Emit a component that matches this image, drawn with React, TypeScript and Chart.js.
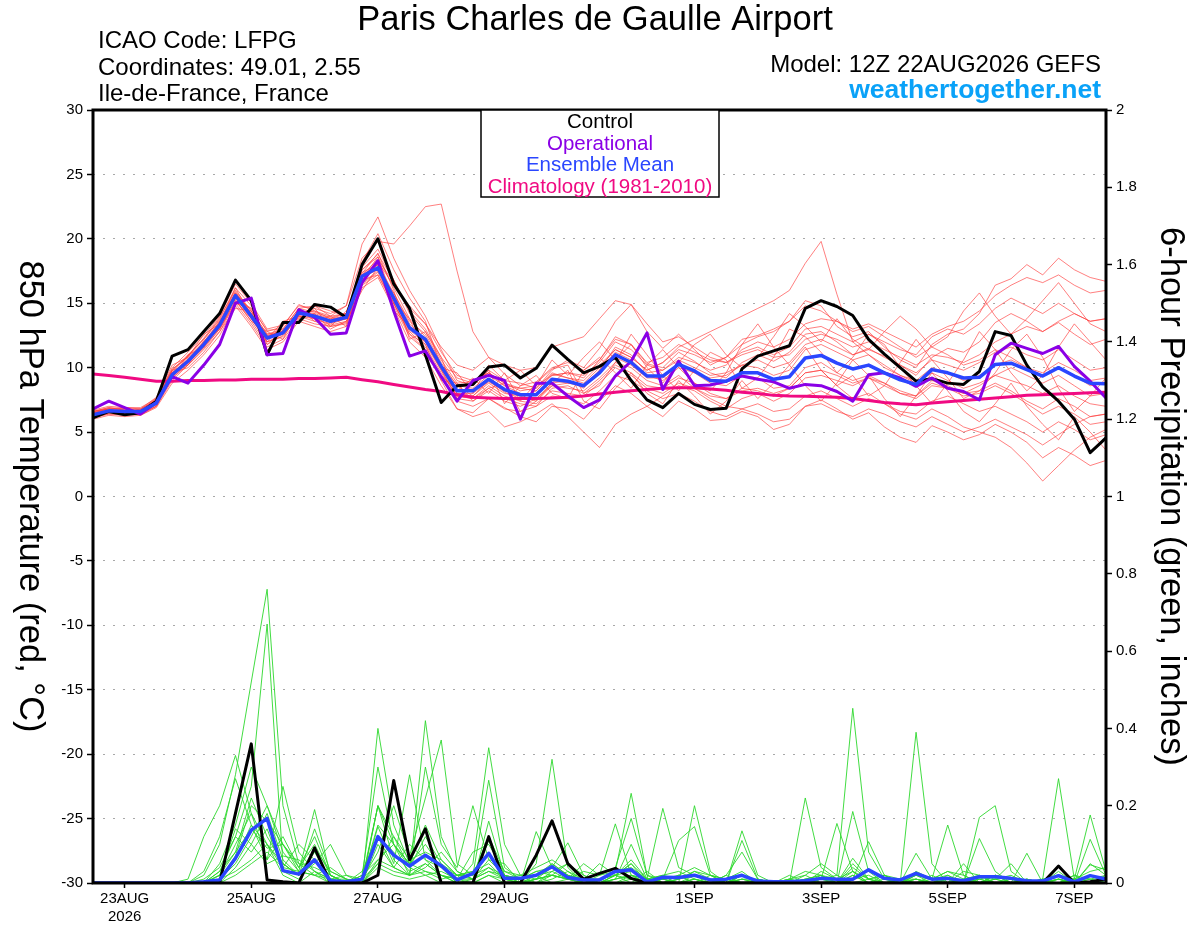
import React, { useEffect, useRef } from "react";
import { Chart, registerables } from "chart.js";

Chart.register(...registerables);

const FONT = '"Liberation Sans", Arial, Helvetica, sans-serif';

// ---- time axis (forecast hours from 12Z 22AUG2026, 6-hourly) ----
const FORECAST_HOURS = Array.from({ length: 65 }, (_, i) => i * 6);
const TICK_HOURS = [12, 60, 108, 156, 228, 276, 324, 372];
const TICK_LABELS: (string | string[])[] = [["23AUG", "2026"], "25AUG", "27AUG", "29AUG", "1SEP", "3SEP", "5SEP", "7SEP"];

// ---- 850 hPa temperature (°C) ----
const CONTROL_T = [
  6.1, 6.6, 6.35, 6.5, 7.4, 10.9, 11.4, 12.8, 14.2, 16.8, 15.2, 11.0, 13.5,
  13.5, 14.9, 14.7, 13.9, 18.0, 20.0, 16.5, 14.6, 11.0, 7.3, 8.6, 8.7, 10.05,
  10.2, 9.2, 9.95, 11.75, 10.65, 9.6, 10.1, 10.8, 9.0, 7.5, 6.9, 8.0, 7.15,
  6.75, 6.85, 9.9, 10.9, 11.3, 11.7, 14.6, 15.2, 14.75, 14.05, 12.2, 11.05, 10.0,
  8.95, 9.15, 8.8, 8.7, 9.7, 12.8, 12.5, 10.2, 8.5, 7.4, 6.0, 3.4, 4.55,
];
const OPERATIONAL_T = [
  6.8, 7.4, 6.9, 6.4, 7.3, 9.3, 8.8, 10.2, 11.8, 15.0, 15.4, 11.0, 11.1,
  14.5, 13.9, 12.6, 12.7, 16.6, 18.3, 14.4, 10.9, 11.3, 9.3, 7.4, 9.0, 9.4,
  9.0, 6.0, 8.8, 8.8, 7.8, 6.9, 7.5, 9.35, 10.5, 12.7, 8.3, 10.5, 8.6,
  8.65, 8.95, 9.35, 9.1, 8.9, 8.4, 8.7, 8.6, 8.15, 7.4, 9.45, 9.6, 9.2,
  8.55, 9.2, 8.4, 8.15, 7.5, 11.0, 11.9, 11.5, 11.1, 11.65, 10.1, 8.95, 7.65,
];
const MEAN_T = [
  6.35, 6.65, 6.6, 6.6, 7.25, 9.45, 10.5, 11.8, 13.3, 15.6, 14.0, 12.3, 12.7,
  14.25, 14.0, 13.6, 13.9, 17.1, 17.75, 15.4, 13.1, 12.2, 10.1, 8.2, 8.2, 9.1,
  8.3, 7.9, 7.9, 9.1, 8.95, 8.6, 9.6, 11.0, 10.4, 9.35, 9.35, 10.25, 9.75,
  9.0, 8.95, 9.6, 9.6, 9.1, 9.3, 10.75, 10.95, 10.35, 9.9, 10.2, 9.6, 9.05,
  8.7, 9.85, 9.6, 9.2, 9.25, 10.25, 10.35, 9.85, 9.35, 10.0, 9.35, 8.8, 8.75,
];
const CLIMO_T = [
  9.5, 9.4, 9.25, 9.1, 8.95, 8.95, 9.0, 9.0, 9.05, 9.05, 9.1, 9.1, 9.1,
  9.15, 9.15, 9.2, 9.25, 9.07, 8.9, 8.7, 8.5, 8.3, 8.15, 7.9, 7.7, 7.65,
  7.6, 7.6, 7.6, 7.65, 7.7, 7.8, 7.95, 8.1, 8.2, 8.3, 8.4, 8.45, 8.45,
  8.35, 8.25, 8.1, 8.0, 7.85, 7.8, 7.78, 7.75, 7.7, 7.6, 7.45, 7.3, 7.2,
  7.13, 7.25, 7.35, 7.45, 7.55, 7.65, 7.75, 7.85, 7.9, 7.95, 8.0, 8.05, 8.1,
];

// ---- temperature ensemble members ----
const TM01 = [
  6.6, 6.9, 6.8, 6.7, 7.6, 10.0, 11.2, 12.5, 14.0, 16.5, 15.0, 13.0, 13.3,
  14.8, 14.6, 14.2, 14.8, 18.5, 19.8, 19.6, 21.0, 22.5, 22.7, 17.5, 12.8, 10.8,
  9.5, 8.6, 8.9, 10.0, 10.4, 9.8, 10.6, 12.2, 11.8, 10.3, 10.0, 11.2, 10.5,
  9.6, 9.2, 10.4, 11.0, 10.5, 11.2, 12.6, 12.8, 12.0, 11.0, 11.5, 10.8, 10.2,
  9.4, 10.8, 11.5, 11.2, 12.0, 13.5, 14.2, 13.6, 12.8, 13.5, 12.6, 11.8, 12.2,
];
const TM02 = [
  6.0, 6.3, 6.2, 6.3, 6.9, 8.8, 9.8, 11.0, 12.5, 14.8, 13.2, 11.4, 12.0,
  13.6, 13.2, 12.8, 13.2, 16.2, 17.0, 14.6, 12.0, 10.8, 8.6, 6.8, 6.5, 7.6,
  6.9, 6.2, 5.8, 7.0, 6.8, 6.0, 7.4, 8.6, 8.0, 7.0, 6.2, 7.4, 6.8,
  5.9, 6.0, 6.6, 6.2, 5.2, 5.6, 7.0, 7.5, 6.8, 6.0, 6.5, 5.4, 4.6,
  4.2, 5.5, 5.0, 4.4, 4.8, 5.6, 5.0, 4.2, 3.0, 3.8, 3.2, 2.4, 2.8,
];
const TM03 = [
  6.5, 6.8, 6.9, 6.8, 7.4, 9.8, 11.0, 12.2, 13.8, 16.2, 14.8, 12.8, 13.2,
  14.9, 14.4, 14.0, 14.8, 19.6, 21.7, 18.5, 16.0, 14.0, 11.4, 9.0, 8.6, 9.8,
  9.0, 8.8, 8.4, 9.8, 10.6, 10.0, 11.5, 13.6, 14.9, 12.8, 11.5, 12.6, 11.4,
  10.2, 10.8, 12.2, 12.5, 13.0, 13.6, 15.2, 14.8, 13.2, 12.4, 12.8, 11.6, 10.6,
  10.0, 11.8, 12.6, 13.0, 14.2, 16.4, 16.9, 18.0, 17.2, 18.5, 17.6, 17.0, 16.7,
];
const TM04 = [
  6.2, 6.5, 6.4, 6.5, 7.1, 9.2, 10.3, 11.6, 13.0, 15.2, 13.6, 11.8, 12.5,
  14.0, 13.8, 13.3, 13.6, 16.6, 17.5, 15.8, 13.6, 12.6, 10.4, 8.6, 7.8, 9.0,
  8.1, 7.6, 8.2, 9.5, 9.2, 8.8, 10.0, 11.4, 10.8, 9.8, 10.4, 11.6, 12.2,
  12.8, 13.4, 14.0, 14.6, 15.2, 16.0, 18.1, 19.8, 15.7, 12.0, 11.0, 10.2, 9.4,
  8.8, 9.6, 9.0, 8.4, 8.8, 9.4, 9.0, 8.6, 8.0, 8.6, 7.8, 7.2, 7.0,
];
const TM05 = [
  6.3, 6.6, 6.5, 6.4, 7.2, 9.6, 10.6, 11.8, 13.2, 15.8, 14.2, 12.4, 12.9,
  14.4, 14.2, 13.8, 14.0, 17.4, 18.0, 15.0, 12.8, 11.6, 9.6, 7.8, 7.6, 8.4,
  7.6, 7.2, 7.0, 8.4, 8.6, 8.0, 9.0, 10.2, 9.6, 8.6, 8.4, 9.2, 8.8,
  8.0, 7.6, 8.4, 8.2, 7.8, 8.4, 9.6, 9.8, 8.6, 7.6, 8.0, 7.2, 6.4,
  6.0, 6.8, 6.2, 5.4, 5.0, 4.6, 3.8, 2.6, 1.2, 2.4, 3.6, 4.6, 5.2,
];
const TM06 = [
  6.7, 7.0, 6.9, 6.9, 7.6, 9.9, 10.8, 12.0, 13.6, 15.4, 14.6, 12.9, 13.0,
  14.6, 14.8, 14.0, 14.2, 17.8, 19.2, 16.8, 14.2, 12.8, 10.6, 8.8, 8.9, 9.6,
  8.8, 8.4, 8.6, 9.4, 9.6, 9.4, 10.4, 12.0, 11.4, 10.2, 9.8, 10.6, 10.0,
  9.4, 9.6, 10.2, 10.6, 10.0, 10.4, 11.8, 12.2, 11.6, 11.0, 11.4, 10.9, 10.2,
  9.6, 10.6, 10.2, 9.8, 10.4, 11.2, 11.6, 11.0, 10.6, 11.4, 10.6, 9.8, 10.0,
];
const TM07 = [
  6.1, 6.4, 6.3, 6.4, 7.0, 9.0, 10.2, 11.4, 12.8, 15.0, 13.4, 11.6, 12.2,
  13.8, 13.4, 13.2, 13.4, 16.4, 17.2, 14.8, 12.4, 11.4, 9.0, 6.8, 6.2, 6.6,
  5.4, 5.8, 6.4, 7.2, 6.2, 5.0, 3.8, 5.6, 6.4, 7.0, 7.8, 8.6, 8.2,
  7.4, 6.8, 7.6, 8.0, 7.4, 8.0, 9.2, 9.4, 9.0, 8.6, 9.2, 8.6, 8.0,
  7.6, 8.6, 8.4, 8.0, 8.6, 9.4, 10.0, 9.4, 8.8, 9.4, 8.6, 7.8, 8.0,
];
const TM08 = [
  6.5, 6.7, 6.6, 6.7, 7.5, 9.7, 10.9, 12.3, 13.9, 16.0, 14.4, 12.6, 12.8,
  14.2, 14.4, 13.8, 14.2, 17.6, 18.6, 16.2, 13.8, 12.4, 10.2, 8.6, 8.4, 9.4,
  8.6, 8.0, 7.6, 8.8, 9.0, 8.4, 9.8, 11.6, 11.0, 9.6, 9.8, 10.8, 10.4,
  9.8, 10.2, 11.4, 12.0, 11.6, 12.2, 13.4, 13.8, 13.6, 13.0, 13.4, 12.8, 12.2,
  11.6, 12.6, 13.2, 13.6, 14.4, 15.6, 16.4, 17.0, 16.6, 17.2, 16.4, 15.8, 16.0,
];
const TM09 = [
  6.4, 6.6, 6.5, 6.5, 7.3, 9.4, 10.4, 11.6, 13.2, 15.5, 13.8, 12.0, 12.6,
  14.2, 13.9, 13.6, 13.8, 16.8, 17.2, 15.0, 12.6, 11.8, 9.8, 7.6, 7.4, 8.2,
  7.4, 7.0, 7.6, 8.6, 8.4, 8.2, 9.2, 10.4, 10.0, 9.0, 8.6, 9.4, 8.4,
  7.6, 7.0, 6.8, 7.2, 6.6, 6.8, 7.8, 8.2, 7.6, 7.0, 7.6, 7.2, 6.6,
  6.4, 7.4, 7.8, 7.2, 6.6, 7.0, 6.4, 5.8, 5.0, 5.8, 5.2, 4.4, 4.8,
];
const TM10 = [
  6.2, 6.5, 6.5, 6.5, 7.2, 9.3, 10.4, 11.7, 13.1, 15.4, 14.0, 12.4, 12.6,
  14.1, 14.0, 13.5, 13.8, 17.0, 18.0, 15.8, 13.4, 12.2, 10.0, 8.0, 7.8, 8.8,
  8.0, 7.8, 7.4, 8.6, 8.8, 8.6, 9.8, 11.2, 10.6, 9.4, 9.0, 10.0, 9.6,
  9.2, 9.4, 10.2, 10.0, 9.4, 9.8, 11.4, 11.8, 11.2, 10.6, 11.0, 10.0, 9.4,
  9.0, 10.0, 9.6, 9.0, 9.4, 10.2, 10.6, 10.0, 9.6, 10.4, 9.8, 9.0, 9.2,
];
const TM11 = [
  6.6, 6.9, 6.7, 6.6, 7.4, 9.6, 10.7, 12.0, 13.5, 15.9, 14.2, 12.5, 12.8,
  14.4, 14.1, 13.7, 14.0, 17.2, 18.4, 16.6, 14.6, 13.4, 11.6, 10.2, 9.8, 10.8,
  10.2, 9.8, 10.0, 11.6, 12.0, 12.4, 13.8, 15.2, 14.9, 13.4, 12.0, 12.4, 11.6,
  10.8, 10.4, 11.0, 11.4, 10.8, 11.0, 12.2, 12.6, 12.2, 11.6, 12.0, 11.4, 10.8,
  10.2, 11.0, 10.8, 10.4, 11.0, 12.0, 12.6, 13.2, 12.8, 13.6, 14.2, 13.6, 13.8,
];
const TM12 = [
  6.3, 6.6, 6.6, 6.6, 7.2, 9.4, 10.5, 11.8, 13.4, 15.6, 14.1, 12.2, 12.8,
  14.3, 14.1, 13.6, 14.0, 17.0, 17.6, 15.2, 12.9, 12.0, 9.9, 8.0, 8.0, 8.9,
  8.2, 7.8, 8.0, 9.0, 8.8, 8.6, 9.6, 10.8, 10.2, 9.2, 9.2, 10.2, 9.6,
  8.8, 8.6, 9.4, 9.2, 8.4, 8.6, 10.0, 10.4, 9.6, 9.0, 9.4, 8.8, 8.0,
  7.8, 9.0, 8.6, 8.0, 8.2, 8.8, 8.2, 7.4, 6.8, 7.6, 7.0, 6.2, 6.4,
];
const TM13 = [
  6.5, 6.8, 6.7, 6.7, 7.4, 9.5, 10.6, 11.9, 13.4, 15.7, 14.2, 12.5, 12.7,
  14.2, 13.8, 13.4, 13.8, 16.8, 18.2, 16.4, 14.8, 13.4, 11.2, 9.4, 9.0, 9.6,
  8.8, 8.2, 8.4, 9.6, 9.2, 9.0, 10.2, 11.4, 10.8, 9.8, 10.4, 11.4, 11.0,
  10.4, 10.8, 11.8, 12.4, 12.8, 13.6, 14.8, 14.4, 13.6, 12.8, 13.2, 12.4, 11.6,
  10.8, 11.6, 11.0, 10.2, 10.6, 11.4, 10.8, 10.0, 9.4, 10.0, 9.4, 8.6, 8.8,
];
const TM14 = [
  6.2, 6.4, 6.4, 6.5, 7.0, 9.2, 10.2, 11.5, 13.0, 15.2, 13.8, 12.0, 12.4,
  14.0, 13.6, 13.2, 13.5, 16.5, 17.4, 15.0, 12.6, 11.4, 9.2, 7.4, 7.0, 7.6,
  6.8, 6.6, 7.0, 7.8, 7.6, 7.2, 8.2, 9.4, 9.0, 8.2, 7.6, 8.0, 7.4,
  6.6, 6.2, 6.8, 6.4, 5.8, 6.0, 7.0, 7.2, 6.6, 6.2, 6.8, 6.4, 5.8,
  5.4, 6.2, 5.6, 5.0, 5.4, 6.0, 5.4, 4.8, 4.0, 4.8, 5.6, 6.2, 6.4,
];
const TM15 = [
  6.6, 6.8, 6.8, 6.8, 7.5, 9.8, 10.9, 12.2, 13.7, 15.8, 14.4, 12.6, 13.0,
  14.6, 14.3, 13.9, 14.2, 17.6, 18.8, 16.8, 14.4, 13.0, 10.8, 9.2, 8.8, 9.6,
  8.6, 8.4, 8.2, 9.4, 9.6, 9.2, 10.6, 12.4, 11.8, 10.4, 10.8, 11.8, 11.2,
  10.6, 10.4, 11.2, 11.6, 11.0, 11.6, 13.0, 13.2, 12.6, 12.0, 12.6, 12.0, 11.4,
  11.0, 12.4, 13.0, 12.6, 13.4, 14.6, 15.4, 14.8, 14.2, 15.0, 14.2, 13.6, 13.8,
];
const TM16 = [
  6.4, 6.6, 6.6, 6.6, 7.3, 9.5, 10.5, 11.9, 13.3, 15.5, 14.0, 12.3, 12.6,
  14.2, 14.0, 13.5, 13.9, 17.2, 18.0, 15.6, 13.2, 12.0, 9.8, 7.8, 7.6, 8.6,
  7.8, 7.4, 7.2, 8.2, 8.0, 7.8, 8.8, 10.0, 9.4, 8.4, 8.0, 8.8, 8.4,
  7.8, 7.6, 8.2, 8.4, 8.0, 8.4, 9.6, 9.8, 9.4, 8.8, 9.2, 8.8, 8.2,
  7.8, 8.8, 8.4, 7.8, 8.0, 8.6, 8.0, 7.2, 6.4, 7.0, 6.4, 5.6, 5.8,
];
const TM17 = [
  6.3, 6.7, 6.4, 6.6, 7.2, 9.8, 10.2, 12.1, 13.0, 15.0, 14.6, 12.0, 13.4,
  13.8, 14.6, 13.2, 14.4, 16.9, 18.6, 15.2, 13.8, 11.0, 9.4, 8.2, 9.2, 8.0,
  9.6, 7.4, 8.8, 9.9, 10.2, 8.0, 8.6, 10.4, 12.6, 11.0, 9.4, 8.2, 9.8,
  11.2, 10.6, 8.4, 9.2, 10.8, 13.0, 12.4, 11.2, 9.6, 10.8, 12.6, 11.8, 10.0,
  8.6, 7.2, 8.8, 10.6, 12.8, 11.4, 9.6, 8.2, 9.4, 11.6, 13.4, 12.0, 10.6,
];
const TM18 = [
  6.5, 6.6, 6.8, 6.5, 7.5, 9.2, 11.0, 11.6, 13.6, 15.3, 13.6, 12.8, 12.2,
  14.6, 13.6, 14.0, 13.2, 17.3, 18.9, 16.0, 12.2, 12.8, 10.8, 7.6, 8.8, 9.8,
  7.2, 8.6, 9.4, 8.0, 7.6, 9.8, 10.8, 9.6, 8.4, 10.2, 11.4, 10.0, 8.8,
  8.2, 9.6, 11.8, 13.4, 11.6, 10.2, 11.6, 9.8, 8.6, 9.4, 7.8, 8.6, 10.4,
  12.2, 10.6, 9.2, 7.6, 8.2, 9.6, 11.4, 12.6, 10.8, 8.4, 6.6, 7.8, 9.2,
];
const TM19 = [
  6.1, 6.5, 6.6, 6.3, 7.0, 9.6, 10.0, 11.2, 12.8, 14.6, 14.4, 11.8, 12.9,
  13.9, 14.2, 13.0, 13.6, 16.0, 17.8, 14.4, 13.2, 11.8, 9.0, 8.8, 7.4, 8.4,
  8.8, 6.6, 7.4, 8.8, 9.8, 7.4, 6.8, 8.4, 9.6, 8.0, 7.2, 9.0, 7.8,
  6.4, 7.4, 9.0, 7.6, 8.8, 10.2, 8.6, 7.4, 8.8, 10.6, 9.4, 7.6, 6.2,
  7.8, 9.6, 8.2, 6.6, 5.8, 7.2, 8.8, 7.0, 5.6, 4.4, 6.2, 5.0, 3.6,
];
const TM20 = [
  6.6, 6.8, 6.5, 6.8, 7.7, 10.2, 10.8, 12.6, 13.4, 16.2, 14.0, 12.2, 13.6,
  14.0, 14.8, 14.4, 14.0, 18.2, 20.4, 17.6, 15.4, 13.6, 10.0, 9.6, 8.0, 10.2,
  9.0, 9.8, 8.6, 10.6, 9.4, 10.8, 12.0, 10.6, 11.8, 10.0, 8.8, 10.4, 11.8,
  12.6, 11.0, 10.0, 10.8, 12.4, 14.2, 13.2, 12.0, 13.8, 12.2, 11.4, 12.8, 14.0,
  13.0, 11.6, 12.4, 14.4, 15.8, 14.0, 12.6, 13.8, 15.2, 16.6, 15.0, 13.4, 12.8,
];
const TEMP_MEMBERS = [
  TM01, TM02, TM03, TM04, TM05, TM06, TM07, TM08, TM09, TM10,
  TM11, TM12, TM13, TM14, TM15, TM16, TM17, TM18, TM19, TM20,
];

// ---- 6-hour precipitation (inches) ----
const CONTROL_P = [
  0, 0, 0, 0, 0, 0, 0, 0, 0, 0.18, 0.36, 0.008, 0.003,
  0, 0.091, 0, 0, 0, 0.02, 0.265, 0.06, 0.14, 0, 0, 0, 0.12,
  0, 0, 0.072, 0.161, 0.05, 0.01, 0.025, 0.038, 0.012, 0, 0, 0, 0,
  0, 0, 0, 0, 0, 0, 0, 0, 0, 0, 0, 0, 0,
  0, 0, 0, 0, 0, 0, 0, 0, 0, 0.044, 0, 0.003, 0.01,
];
const MEAN_P = [
  0, 0, 0, 0, 0, 0, 0, 0.003, 0.008, 0.064, 0.137, 0.167, 0.032,
  0.023, 0.06, 0.006, 0.003, 0.01, 0.12, 0.072, 0.044, 0.072, 0.045, 0.008, 0.025, 0.077,
  0.012, 0.012, 0.02, 0.042, 0.014, 0.008, 0.008, 0.03, 0.034, 0.003, 0.015, 0.014, 0.02,
  0.008, 0.01, 0.02, 0.005, 0.003, 0.003, 0.006, 0.012, 0.01, 0.01, 0.034, 0.012, 0.008,
  0.025, 0.01, 0.012, 0.006, 0.016, 0.016, 0.012, 0.006, 0.005, 0.019, 0.003, 0.019, 0.01,
];

// ---- precipitation ensemble members ----
const PM01 = [
  0, 0, 0, 0, 0, 0, 0, 0.02, 0.10, 0.28, 0.52, 0.76, 0.20,
  0.05, 0.02, 0, 0, 0.01, 0.05, 0.12, 0.04, 0.02, 0, 0, 0.01, 0.04,
  0.02, 0, 0, 0.01, 0.03, 0, 0, 0.02, 0.05, 0.01, 0, 0, 0.01,
  0, 0, 0.02, 0, 0, 0.01, 0, 0.03, 0.01, 0, 0, 0.02, 0,
  0, 0, 0.01, 0, 0, 0.02, 0, 0, 0.01, 0, 0, 0.02, 0,
];
const PM02 = [
  0, 0, 0, 0, 0, 0, 0, 0, 0.03, 0.12, 0.25, 0.67, 0.05,
  0.02, 0.08, 0.01, 0, 0, 0.4, 0.15, 0.05, 0.1, 0.04, 0, 0, 0.02,
  0, 0, 0.01, 0.05, 0.02, 0, 0.01, 0, 0, 0.03, 0, 0.02, 0,
  0, 0.01, 0, 0, 0, 0, 0.22, 0.04, 0.01, 0, 0, 0, 0,
  0.01, 0, 0, 0.05, 0, 0, 0.01, 0, 0, 0, 0.02, 0, 0,
];
const PM03 = [
  0, 0, 0, 0, 0, 0, 0.01, 0.12, 0.2, 0.33, 0.18, 0.1, 0.02,
  0, 0.03, 0.01, 0, 0.02, 0.3, 0.1, 0.02, 0.05, 0.02, 0, 0.05, 0.35,
  0.1, 0.02, 0, 0.03, 0.05, 0.02, 0, 0, 0.02, 0.01, 0, 0, 0,
  0.02, 0, 0, 0, 0, 0, 0, 0.01, 0.154, 0.03, 0, 0, 0,
  0, 0, 0, 0.01, 0.02, 0, 0, 0, 0, 0, 0.02, 0.01, 0,
];
const PM04 = [
  0, 0, 0, 0, 0, 0, 0, 0.03, 0.12, 0.27, 0.15, 0.06, 0.25,
  0.08, 0.03, 0, 0, 0, 0.2, 0.06, 0.02, 0.3, 0.1, 0.04, 0.2, 0.06,
  0.05, 0, 0.01, 0.02, 0.01, 0.05, 0.02, 0.03, 0.232, 0.02, 0, 0.01, 0.02,
  0, 0, 0.135, 0.02, 0, 0, 0, 0.01, 0.02, 0.452, 0.08, 0.01, 0,
  0.02, 0, 0.01, 0, 0.01, 0, 0, 0, 0.01, 0.27, 0.01, 0, 0.02,
];
const PM05 = [
  0, 0, 0, 0, 0, 0, 0, 0, 0.05, 0.15, 0.3, 0.2, 0.1,
  0.03, 0.19, 0.02, 0, 0, 0.146, 0.05, 0.28, 0.06, 0.02, 0, 0, 0.16,
  0.02, 0, 0.05, 0.32, 0.04, 0, 0, 0.02, 0.05, 0, 0.01, 0, 0.2,
  0.03, 0, 0.02, 0, 0, 0.01, 0.02, 0, 0, 0.01, 0.107, 0.02, 0,
  0.39, 0.05, 0, 0.01, 0, 0.02, 0, 0.01, 0, 0, 0.01, 0.176, 0.03,
];
const PM06 = [
  0, 0, 0, 0, 0, 0, 0, 0, 0.02, 0.08, 0.22, 0.12, 0.05,
  0.02, 0.14, 0.03, 0.01, 0, 0.1, 0.04, 0.02, 0.42, 0.12, 0.03, 0.01, 0.11,
  0.02, 0, 0.133, 0.04, 0.104, 0.02, 0, 0.01, 0.1, 0.01, 0.193, 0.04, 0.02,
  0.01, 0, 0.02, 0, 0, 0, 0, 0.01, 0, 0.064, 0.01, 0, 0,
  0.077, 0.01, 0.15, 0.02, 0, 0.01, 0.05, 0, 0, 0.01, 0, 0.113, 0.02,
];
const PM07 = [
  0, 0, 0, 0, 0, 0, 0, 0, 0.01, 0.06, 0.15, 0.1, 0.04,
  0.1, 0.06, 0.02, 0, 0.01, 0.08, 0.2, 0.07, 0.22, 0.37, 0.05, 0.02, 0.04,
  0.01, 0, 0.02, 0, 0.01, 0.03, 0.02, 0.153, 0.02, 0, 0.01, 0.11, 0.146,
  0.02, 0, 0.11, 0.01, 0, 0.02, 0, 0, 0, 0.185, 0.03, 0, 0.01,
  0, 0.02, 0, 0, 0.17, 0.2, 0.03, 0, 0.01, 0.02, 0, 0.047, 0.034,
];
const PM08 = [
  0, 0, 0, 0, 0, 0, 0, 0, 0, 0.04, 0.1, 0.18, 0.06,
  0.02, 0.05, 0.1, 0.02, 0, 0.12, 0.08, 0.03, 0.05, 0.02, 0.01, 0.08, 0.1,
  0.03, 0.02, 0.01, 0.04, 0.02, 0.01, 0.05, 0.02, 0, 0.01, 0.02, 0.03, 0.01,
  0, 0.02, 0.08, 0.01, 0, 0, 0.01, 0, 0, 0.03, 0.01, 0.02, 0,
  0.01, 0, 0.02, 0, 0.115, 0.03, 0, 0.077, 0, 0.01, 0, 0.01, 0.02,
];
const PM09 = [
  0, 0, 0, 0, 0, 0, 0, 0, 0.02, 0.1, 0.18, 0.06, 0.12,
  0.04, 0.1, 0.02, 0, 0.02, 0.06, 0.1, 0.05, 0.03, 0.01, 0.02, 0.02, 0.266,
  0.04, 0.01, 0, 0.02, 0.05, 0.01, 0, 0, 0.01, 0, 0.01, 0.02, 0,
  0, 0.02, 0, 0, 0, 0.01, 0, 0.02, 0, 0.02, 0, 0, 0.01,
  0, 0, 0.01, 0, 0, 0.02, 0, 0.01, 0, 0, 0.01, 0, 0.01,
];
const PM10 = [
  0, 0, 0, 0, 0, 0, 0, 0, 0.01, 0.05, 0.12, 0.2, 0.08,
  0.03, 0.02, 0.01, 0.01, 0, 0.05, 0.03, 0.02, 0.04, 0.08, 0.03, 0.01, 0.06,
  0.02, 0.01, 0.03, 0.02, 0.01, 0, 0.02, 0.04, 0.167, 0.02, 0.01, 0, 0.02,
  0.01, 0, 0.01, 0, 0, 0, 0, 0, 0.01, 0, 0, 0.01, 0,
  0, 0.01, 0, 0, 0.02, 0.01, 0, 0, 0, 0.01, 0, 0.02, 0.01,
];
const PM11 = [
  0, 0, 0, 0, 0, 0, 0, 0, 0.03, 0.08, 0.14, 0.09, 0.1,
  0.05, 0.04, 0.02, 0, 0.01, 0.2, 0.12, 0.06, 0.08, 0.06, 0.02, 0.03, 0.05,
  0.01, 0.02, 0.04, 0.06, 0.03, 0.01, 0, 0.02, 0.03, 0.01, 0, 0.01, 0.03,
  0.02, 0.01, 0, 0.01, 0, 0, 0.01, 0.02, 0.01, 0.03, 0, 0, 0,
  0.01, 0, 0, 0.03, 0.02, 0, 0, 0.01, 0, 0.02, 0.01, 0.03, 0.04,
];
const PM12 = [
  0, 0, 0, 0, 0, 0, 0, 0.01, 0.04, 0.12, 0.08, 0.14, 0.03,
  0.01, 0.06, 0.01, 0, 0.03, 0.12, 0.04, 0.1, 0.06, 0.04, 0.02, 0.01, 0.03,
  0.02, 0.01, 0.02, 0.03, 0.01, 0, 0.01, 0.02, 0.01, 0, 0, 0.01, 0.02,
  0.01, 0, 0.01, 0.01, 0, 0, 0.02, 0.05, 0.02, 0, 0.01, 0.02, 0.01,
  0.02, 0.01, 0.03, 0.01, 0, 0.01, 0.02, 0, 0, 0.01, 0, 0, 0.01,
];
const PM13 = [
  0, 0, 0, 0, 0, 0, 0, 0, 0.01, 0.03, 0.06, 0.1, 0.05,
  0.02, 0.09, 0.03, 0.01, 0, 0.04, 0.02, 0.01, 0.02, 0.03, 0.01, 0, 0.02,
  0.01, 0, 0.01, 0.02, 0.01, 0, 0, 0.01, 0.02, 0, 0, 0, 0.01,
  0, 0, 0.01, 0, 0, 0, 0, 0, 0, 0.01, 0.02, 0, 0,
  0, 0, 0, 0, 0.01, 0, 0, 0, 0, 0, 0.01, 0, 0,
];
const PM14 = [
  0, 0, 0, 0, 0, 0, 0, 0, 0.02, 0.14, 0.1, 0.05, 0.07,
  0.06, 0.03, 0.01, 0.02, 0.01, 0.15, 0.1, 0.04, 0.12, 0.05, 0.02, 0.02, 0.12,
  0.03, 0.01, 0.02, 0.05, 0.02, 0, 0.01, 0.03, 0.04, 0.01, 0.02, 0.01, 0.03,
  0.01, 0, 0.02, 0, 0, 0.01, 0.03, 0.02, 0, 0.04, 0.01, 0, 0,
  0.03, 0.01, 0.02, 0, 0.01, 0.02, 0.01, 0, 0, 0.02, 0, 0.02, 0.01,
];
const PM15 = [
  0, 0, 0, 0, 0, 0, 0, 0, 0, 0.02, 0.05, 0.08, 0.04,
  0.03, 0.02, 0.04, 0.01, 0, 0.06, 0.04, 0.02, 0.03, 0.02, 0.01, 0.01, 0.03,
  0.01, 0, 0.01, 0.02, 0.01, 0.01, 0, 0.01, 0.02, 0.01, 0.01, 0, 0.01,
  0, 0.01, 0, 0, 0, 0, 0, 0.01, 0, 0.02, 0, 0, 0.01,
  0.01, 0, 0, 0.01, 0, 0.01, 0, 0, 0, 0, 0.01, 0.01, 0,
];
const PM16 = [
  0, 0, 0, 0, 0, 0, 0, 0, 0.01, 0.07, 0.2, 0.16, 0.1,
  0.04, 0.12, 0.02, 0, 0, 0.2, 0.1, 0.05, 0.15, 0.06, 0.02, 0.03, 0.08,
  0.02, 0.01, 0.03, 0.04, 0.02, 0.01, 0.01, 0.02, 0.06, 0.01, 0, 0.02, 0.04,
  0.02, 0.01, 0.03, 0, 0, 0, 0.01, 0.02, 0, 0.05, 0.01, 0, 0,
  0.02, 0.01, 0.03, 0.02, 0, 0.02, 0.01, 0, 0, 0.03, 0, 0.05, 0.02,
];
const PRECIP_MEMBERS = [PM01, PM02, PM03, PM04, PM05, PM06, PM07, PM08, PM09, PM10, PM11, PM12, PM13, PM14, PM15, PM16];

// ---- texts ----
const TITLE = "Paris Charles de Gaulle Airport";
const INFO_LINES = ["ICAO Code: LFPG", "Coordinates: 49.01, 2.55", "Ile-de-France, France"];
const MODEL_LINE = "Model: 12Z 22AUG2026 GEFS";
const SITE_LINE = "weathertogether.net";
const LEGEND_ITEMS = ["Control", "Operational", "Ensemble Mean", "Climatology (1981-2010)"];
const LEFT_TITLE = "850 hPa Temperature (red, \u00B0C)";
const RIGHT_TITLE = "6-hour Precipitation (green, inches)";

const COLORS = {
  control: "#000000",
  operational: "#8a00e6",
  mean: "#2a46ff",
  climo: "#f00a82",
  red: "rgba(255,55,55,0.8)",
  green: "#2cd82c",
  site: "#0aa2f8",
};
const LEGEND_COLORS = [COLORS.control, COLORS.operational, COLORS.mean, COLORS.climo];

const toPoints = (arr: number[]) => arr.map((v, i) => ({ x: FORECAST_HOURS[i], y: v }));

const annotationPlugin = {
  id: "annotations",
  afterDraw(chart: any) {
    const ctx: CanvasRenderingContext2D = chart.ctx;
    const { left, top, right, bottom } = chart.chartArea;
    ctx.save();
    // frame
    ctx.strokeStyle = "#000";
    ctx.lineWidth = 3;
    ctx.strokeRect(left, top, right - left, bottom - top);

    ctx.fillStyle = "#000";
    ctx.textBaseline = "alphabetic";
    // title
    ctx.textAlign = "center";
    ctx.font = `34.5px ${FONT}`;
    ctx.fillText(TITLE, 595, 30);
    // info lines
    ctx.textAlign = "left";
    ctx.font = `24px ${FONT}`;
    INFO_LINES.forEach((t, k) => ctx.fillText(t, 98, 48 + k * 26.5));
    // model & site
    ctx.textAlign = "right";
    ctx.fillText(MODEL_LINE, 1101, 72);
    ctx.font = `bold 26.5px ${FONT}`;
    ctx.fillStyle = COLORS.site;
    ctx.fillText(SITE_LINE, 1101, 98);

    // legend box
    const bx = 481, by = top, bw = 238, bh = 87;
    ctx.fillStyle = "#fff";
    ctx.fillRect(bx, by, bw, bh);
    ctx.strokeStyle = "#000";
    ctx.lineWidth = 1.5;
    ctx.strokeRect(bx, by, bw, bh);
    ctx.textAlign = "center";
    ctx.font = `20.5px ${FONT}`;
    LEGEND_ITEMS.forEach((t, k) => {
      ctx.fillStyle = LEGEND_COLORS[k];
      ctx.fillText(t, bx + bw / 2, by + 18 + k * 21.5);
    });

    // axis titles (rotated, reading downward)
    ctx.fillStyle = "#000";
    ctx.font = `34.5px ${FONT}`;
    ctx.textAlign = "center";
    ctx.textBaseline = "middle";
    ctx.save();
    ctx.translate(30, (top + bottom) / 2);
    ctx.rotate(Math.PI / 2);
    ctx.fillText(LEFT_TITLE, 0, 0);
    ctx.restore();
    ctx.save();
    ctx.translate(1171, (top + bottom) / 2);
    ctx.rotate(Math.PI / 2);
    ctx.fillText(RIGHT_TITLE, 0, 0);
    ctx.restore();

    ctx.restore();
  },
};

export default function App() {
  const canvasRef = useRef<HTMLCanvasElement>(null);

  useEffect(() => {
    const canvas = canvasRef.current;
    if (!canvas) return;

    const datasets: any[] = [];
    datasets.push({
      label: "Ensemble Mean",
      data: toPoints(MEAN_T),
      yAxisID: "y",
      borderColor: COLORS.mean,
      borderWidth: 3.5,
      order: 0,
    });
    datasets.push({
      label: "Ensemble Mean precip",
      data: toPoints(MEAN_P),
      yAxisID: "y2",
      borderColor: COLORS.mean,
      borderWidth: 3.5,
      order: 0,
    });
    datasets.push({
      label: "Operational",
      data: toPoints(OPERATIONAL_T),
      yAxisID: "y",
      borderColor: COLORS.operational,
      borderWidth: 3,
      order: 1,
    });
    datasets.push({
      label: "Control",
      data: toPoints(CONTROL_T),
      yAxisID: "y",
      borderColor: COLORS.control,
      borderWidth: 3,
      order: 2,
    });
    datasets.push({
      label: "Control precip",
      data: toPoints(CONTROL_P),
      yAxisID: "y2",
      borderColor: COLORS.control,
      borderWidth: 3,
      order: 2,
    });
    datasets.push({
      label: "Climatology",
      data: toPoints(CLIMO_T),
      yAxisID: "y",
      borderColor: COLORS.climo,
      borderWidth: 3,
      order: 3,
    });
    PRECIP_MEMBERS.forEach((m, k) =>
      datasets.push({
        label: `P member ${k + 1}`,
        data: toPoints(m),
        yAxisID: "y2",
        borderColor: COLORS.green,
        borderWidth: 0.9,
        order: 4,
      })
    );
    TEMP_MEMBERS.forEach((m, k) =>
      datasets.push({
        label: `T member ${k + 1}`,
        data: toPoints(m),
        yAxisID: "y",
        borderColor: COLORS.red,
        borderWidth: 0.8,
        order: 5,
      })
    );

    const tickFont = { family: FONT, size: 15 };

    const chart = new Chart(canvas, {
      type: "line",
      data: { datasets },
      options: {
        responsive: false,
        animation: false,
        events: [],
        layout: { padding: { top: 110, left: 0, right: 0, bottom: 0 } },
        elements: {
          point: { radius: 0 },
          line: { tension: 0, fill: false, borderJoinStyle: "round" as any },
        },
        plugins: {
          legend: { display: false },
          tooltip: { enabled: false },
          title: { display: false },
        },
        scales: {
          x: {
            type: "linear",
            min: 0,
            max: 384,
            afterBuildTicks: (s: any) => {
              s.ticks = TICK_HOURS.map((v) => ({ value: v }));
            },
            afterFit: (s: any) => {
              s.height = 44;
            },
            ticks: {
              autoSkip: false,
              maxRotation: 0,
              minRotation: 0,
              padding: 2,
              color: "#000",
              font: tickFont,
              callback: (v: any) => {
                const k = TICK_HOURS.indexOf(Number(v));
                return k >= 0 ? TICK_LABELS[k] : "";
              },
            },
            grid: {
              drawOnChartArea: false,
              drawTicks: true,
              tickLength: 5,
              tickColor: "#000",
              tickWidth: 1.5,
            },
            border: { display: false },
          },
          y: {
            type: "linear",
            position: "left",
            min: -30,
            max: 30,
            afterFit: (s: any) => {
              s.width = 93;
            },
            ticks: { stepSize: 5, padding: 4, color: "#000", font: tickFont },
            grid: {
              color: "#a8a8a8",
              lineWidth: 1,
              drawTicks: true,
              tickLength: 6,
              tickColor: "#000",
              tickWidth: 1.5,
            },
            border: { display: false, dash: [2, 8] },
          },
          y2: {
            type: "linear",
            position: "right",
            min: 0,
            max: 2,
            afterFit: (s: any) => {
              s.width = 94;
            },
            ticks: {
              stepSize: 0.2,
              padding: 4,
              color: "#000",
              font: tickFont,
              callback: (v: any) => String(Math.round(Number(v) * 10) / 10),
            },
            grid: {
              drawOnChartArea: false,
              drawTicks: true,
              tickLength: 6,
              tickColor: "#000",
              tickWidth: 1.5,
            },
            border: { display: false },
          },
        },
      } as any,
      plugins: [annotationPlugin],
    });

    return () => chart.destroy();
  }, []);

  return (
    <div style={{ position: "absolute", left: 0, top: 0, width: 1200, height: 927, background: "#fff" }}>
      <canvas ref={canvasRef} width={1200} height={927} style={{ display: "block", width: 1200, height: 927 }} />
    </div>
  );
}
